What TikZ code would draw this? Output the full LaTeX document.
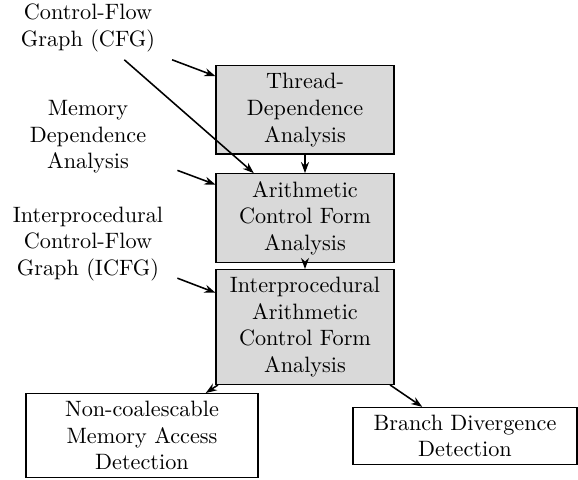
\documentclass[tikz,border=0pt]{standalone}
\usetikzlibrary{arrows.meta}
\begin{document}
\begin{tikzpicture}[x=0.45pt,y=-0.45pt,
  box/.style={draw, line width=0.5pt, fill=gray!30, align=center, text width=73.4pt, inner sep=3.33pt},
  wbox/.style={draw, line width=0.5pt, fill=white, align=center, inner sep=3.33pt},
  src/.style={align=center, text width=73.4pt, inner sep=3.33pt},
  arr/.style={-{Stealth[length=5pt,width=3.6pt]}, line width=0.7pt}]
\useasboundingbox (0,0) rectangle (578,480);
\node[src] (cfg) at (88,28) {Control-Flow\\Graph (CFG)};
\node[src] (mem) at (88,137) {Memory\\Dependence\\Analysis};
\node[src] (icfg) at (88,244) {Interprocedural\\Control-Flow\\Graph (ICFG)};
\node[box] (tda) at (305,110) {Thread-\\Dependence\\Analysis};
\node[box] (acf) at (305,218) {Arithmetic\\Control Form\\Analysis};
\node[box] (iacf) at (305,327) {Interprocedural\\Arithmetic\\Control Form\\Analysis};
\node[wbox, text width=97.7pt] (ncm) at (142,435.5) {Non-coalescable\\Memory Access\\Detection};
\node[wbox, text width=94.1pt] (bdd) at (465,436) {Branch Divergence\\Detection};
\draw[arr] (cfg) -- (tda);
\draw[arr] (cfg) -- (acf);
\draw[arr] (mem) -- (acf);
\draw[arr] (icfg) -- (iacf);
\draw[arr] (tda) -- (acf);
\draw[arr] (acf) -- (iacf);
\draw[arr] (iacf) -- (ncm);
\draw[arr] (iacf) -- (bdd);
\end{tikzpicture}
\end{document}
